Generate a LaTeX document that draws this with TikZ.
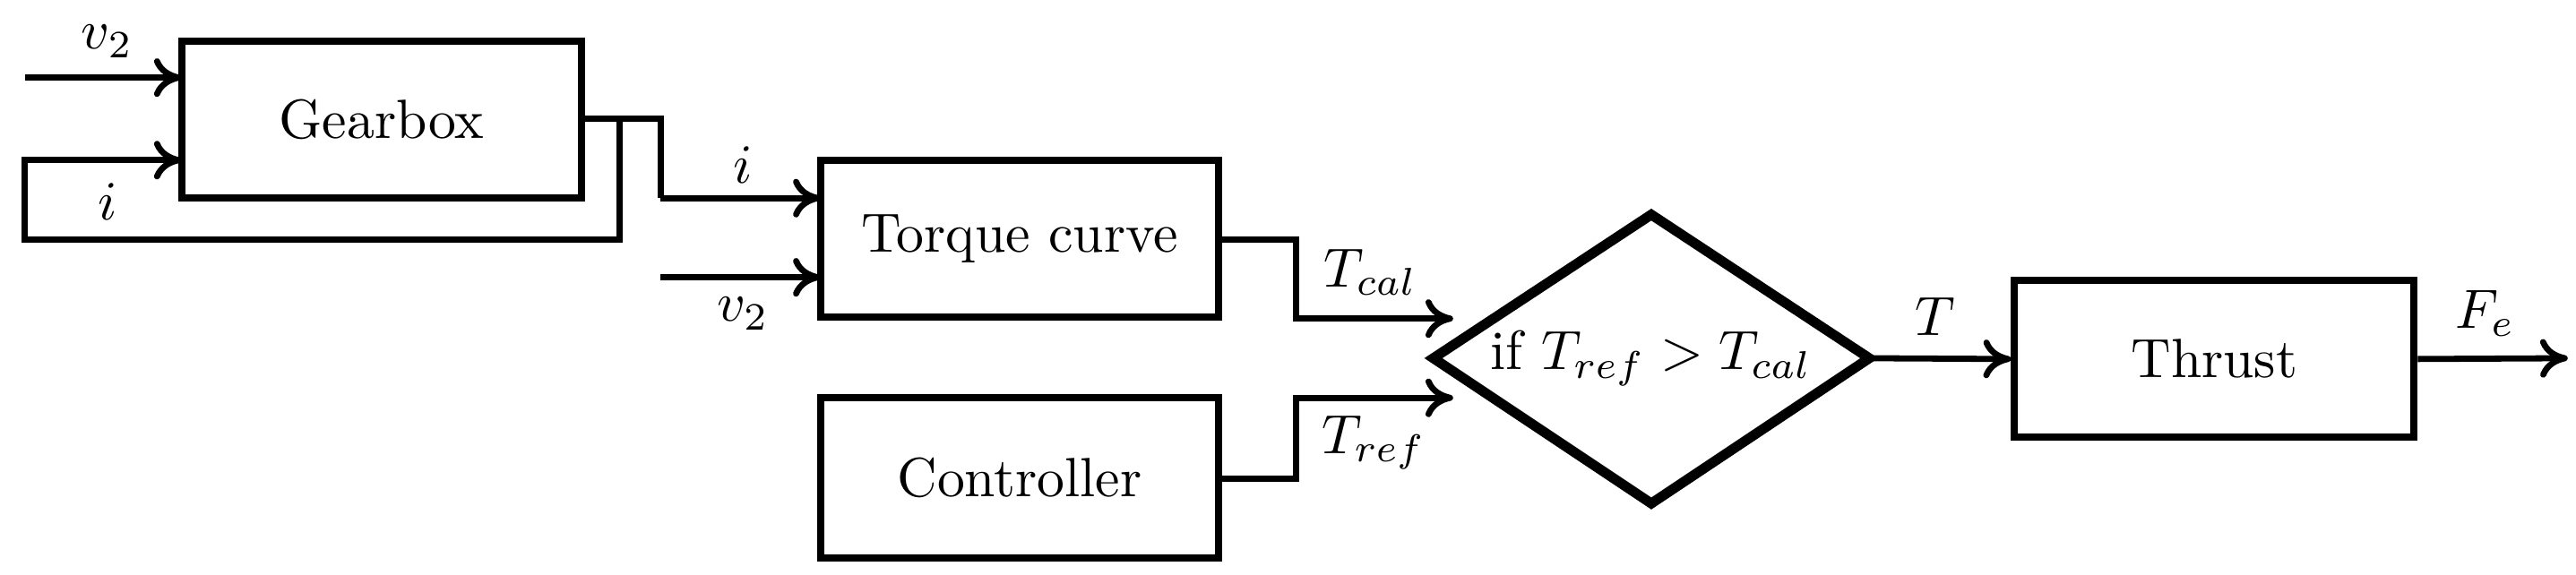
\documentclass[tikz,border=0pt]{standalone}
\usetikzlibrary{arrows.meta}
\begin{document}
\begin{tikzpicture}[x=0.0105cm,y=-0.0105cm,
  blk/.style={draw,line width=1.3pt,inner sep=0pt},
  wire/.style={line width=1.1pt},
  arr/.style={wire,-{To[length=5pt,width=7pt]}},
  lab/.style={inner sep=1pt}]
\useasboundingbox (0,0) rectangle (1560,348);
% boxes
\node[blk,minimum width=242*0.0105cm,minimum height=95*0.0105cm] (gb) at (231,72.5) {Gearbox};
\node[blk,minimum width=241*0.0105cm,minimum height=95*0.0105cm] (tc) at (617.5,144.5) {Torque curve};
\node[blk,minimum width=241*0.0105cm,minimum height=97*0.0105cm] (ct) at (617.5,289.5) {Controller};
\node[blk,minimum width=242*0.0105cm,minimum height=95*0.0105cm] (th) at (1341,217.5) {Thrust};
% diamond
\coordinate (dl) at (868,217); \coordinate (dr) at (1132,217);
\coordinate (dt) at (1000,130); \coordinate (db) at (1000,305);
\draw[line width=1.8pt,line join=miter] (dl)--(dt)--(dr)--(db)--cycle;
\node (dx) at (1000,217) {if $T_{ref}>T_{cal}$};
% coordinates
\coordinate (a0) at (15,47); \coordinate (a1) at (110,47);
\coordinate (f0) at (375,72); \coordinate (f1) at (375,145); \coordinate (f2) at (15,145);
\coordinate (f3) at (15,97); \coordinate (f4) at (110,97);
\coordinate (g1) at (400,72); \coordinate (g2) at (400,120); \coordinate (g3) at (497,120);
\coordinate (v0) at (400,168); \coordinate (v1) at (497,168);
\coordinate (t1) at (785,145); \coordinate (t2) at (785,193); \coordinate (t3) at (880,193);
\coordinate (r1) at (785,290); \coordinate (r2) at (785,241); \coordinate (r3) at (880,241);
\coordinate (out) at (1555,217);
% wires
\draw[arr] (a0) -- (a1);
\node[lab] at (65,25) {$v_2$};
\draw[wire] (gb.east |- g1) -- (g1) -- (g2);
\draw[arr] (g2) -- (g3);
\node[lab] at (450,100) {$i$};
\draw[arr] (f0) -- (f1) -- (f2) -- (f3) -- (f4);
\node[lab] at (65,122) {$i$};
\draw[arr] (v0) -- (v1);
\node[lab] at (450,190) {$v_2$};
\draw[arr] (tc.east |- t1) -- (t1) -- (t2) -- (t3);
\node[lab] at (830,165) {$T_{cal}$};
\draw[arr] (ct.east |- r1) -- (r1) -- (r2) -- (r3);
\node[lab] at (832,268) {$T_{ref}$};
\draw[arr] (dr) -- (th.west);
\node[lab] at (1172,192) {$T$};
\draw[arr] (th.east) -- (out);
\node[lab] at (1505,190) {$F_e$};
\end{tikzpicture}
\end{document}
